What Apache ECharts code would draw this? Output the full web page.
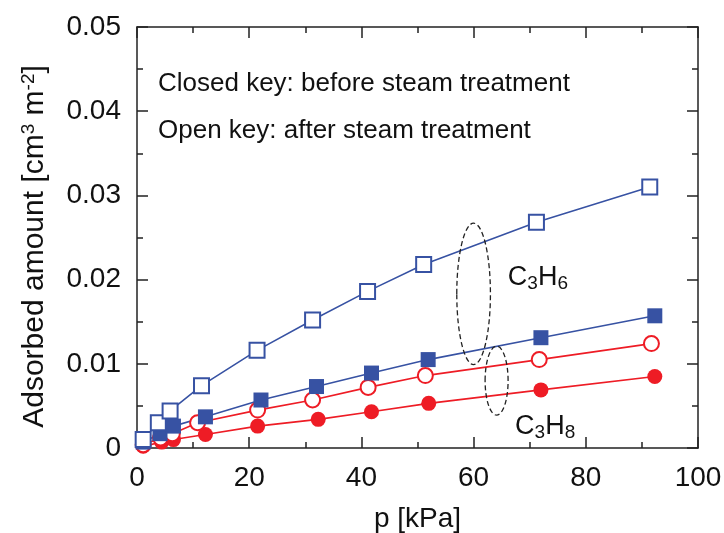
<!DOCTYPE html>
<html>
<head>
<meta charset="utf-8">
<script src="https://cdn.jsdelivr.net/npm/echarts@6/dist/echarts.min.js"></script>
<style>
  html, body { margin: 0; padding: 0; background: #fff; }
  #chart { width: 724px; height: 533px; }
</style>
</head>
<body>
<div id="chart"></div>
<script>
// Pressure (kPa) and adsorbed amount (cm3 m-2) for each isotherm
const c3h6AfterP = [1.1, 3.8, 5.9, 11.5, 21.4, 31.3, 41.1, 51.1, 71.2, 91.4];
const c3h6AfterQ = [0.0010, 0.0030, 0.0044, 0.0074, 0.0116, 0.0152, 0.0186, 0.0218, 0.0268, 0.0310];

const c3h6BeforeP = [1.1, 4.1, 6.5, 12.2, 22.1, 32.0, 41.8, 51.9, 72.0, 92.3];
const c3h6BeforeQ = [0.0007, 0.0017, 0.0026, 0.0037, 0.0057, 0.0073, 0.0089, 0.0105, 0.0131, 0.0157];

const c3h8AfterP = [1.1, 4.2, 6.3, 10.8, 21.5, 31.3, 41.2, 51.4, 71.7, 91.7];
const c3h8AfterQ = [0.0004, 0.0012, 0.0017, 0.0030, 0.0045, 0.0057, 0.0072, 0.0086, 0.0105, 0.0124];

const c3h8BeforeP = [1.1, 4.4, 6.5, 12.2, 21.5, 32.3, 41.8, 52.0, 72.0, 92.3];
const c3h8BeforeQ = [0.0002, 0.0007, 0.0010, 0.0016, 0.0026, 0.0034, 0.0043, 0.0053, 0.0069, 0.0085];

// Axis ranges
const xRange = [0, 100, 20];
const yRange = [0, 0.05, 0.01];

// Dashed group ellipses (centre x, centre y, half-width in kPa, half-height in cm3 m-2)
const groupC3H6 = [60.0, 0.0183, 3.0, 0.0084];
const groupC3H8 = [64.1, 0.0080, 2.05, 0.0041];

const BLUE = '#3752a3';
const RED = '#ee1c25';
const FONT = 'Liberation Sans, Arial, sans-serif';

const pairs = (xs, ys) => xs.map((x, i) => [x, ys[i]]);

function axisCommon(showLabels, margin) {
  return {
    axisLine: { show: true, onZero: false, lineStyle: { color: '#222', width: 1.5 } },
    axisTick: { show: true, inside: true, length: 11, lineStyle: { color: '#222', width: 1.5 } },
    minorTick: { show: true, splitNumber: 2, length: 6, lineStyle: { color: '#222', width: 1.5 } },
    splitLine: { show: false },
    axisLabel: { show: showLabels, color: '#111', fontSize: 28, fontFamily: FONT, margin: margin || 14 }
  };
}

function makeSeries(name, data, symbol, color, filled) {
  return {
    name, type: 'line', data,
    symbol, symbolSize: 15,
    showAllSymbol: true,
    lineStyle: { color, width: 1.6 },
    itemStyle: { color: filled ? color : '#fff', borderColor: color, borderWidth: filled ? 0 : 2 },
    emphasis: { disabled: true },
    z: 3
  };
}

const chart = echarts.init(document.getElementById('chart'), null, { renderer: 'canvas' });

chart.setOption({
  animation: false,
  backgroundColor: '#fff',
  grid: { left: 137, right: 26, top: 27, bottom: 85, containLabel: false, outerBoundsMode: 'none' },
  xAxis: [
    Object.assign(axisCommon(true, 16), {
      type: 'value', min: xRange[0], max: xRange[1], interval: xRange[2], position: 'bottom',
      name: 'p [kPa]', nameLocation: 'middle', nameGap: 57,
      nameTextStyle: { fontSize: 28, color: '#111', fontFamily: FONT }
    }),
    Object.assign(axisCommon(false), {
      type: 'value', min: xRange[0], max: xRange[1], interval: xRange[2], position: 'top'
    })
  ],
  yAxis: [
    Object.assign(axisCommon(true, 16), {
      type: 'value', min: yRange[0], max: yRange[1], interval: yRange[2], position: 'left',
      name: 'Adsorbed amount [cm{sup|3} m{sup|-2}]', nameLocation: 'middle', nameGap: 86,
      nameTextStyle: {
        fontSize: 30, color: '#111', fontFamily: FONT, lineHeight: 32, padding: [0, 18, 0, 0],
        rich: { sup: { fontSize: 19, color: '#111', fontFamily: FONT, verticalAlign: 'top', lineHeight: 20 } }
      }
    }),
    Object.assign(axisCommon(false), {
      type: 'value', min: yRange[0], max: yRange[1], interval: yRange[2], position: 'right'
    })
  ],
  series: [
    makeSeries('C3H8 before', pairs(c3h8BeforeP, c3h8BeforeQ), 'circle', RED, true),
    makeSeries('C3H8 after', pairs(c3h8AfterP, c3h8AfterQ), 'circle', RED, false),
    makeSeries('C3H6 before', pairs(c3h6BeforeP, c3h6BeforeQ), 'rect', BLUE, true),
    makeSeries('C3H6 after', pairs(c3h6AfterP, c3h6AfterQ), 'rect', BLUE, false)
  ]
});

// Annotations placed from data coordinates
function px(pt) { return chart.convertToPixel({ gridIndex: 0 }, pt); }
function ellipseFrom(g) {
  const c = px([g[0], g[1]]);
  const e = px([g[0] + g[2], g[1] + g[3]]);
  return {
    type: 'ellipse', z: 10, silent: true,
    shape: { cx: c[0], cy: c[1], rx: Math.abs(e[0] - c[0]), ry: Math.abs(c[1] - e[1]) },
    style: { fill: 'none', stroke: '#222', lineWidth: 1.3, lineDash: [5, 3] }
  };
}
const formulaRich = {
  m: { fontSize: 27, fontFamily: FONT, fill: '#111', lineHeight: 32 },
  s: { fontSize: 19, fontFamily: FONT, fill: '#111', verticalAlign: 'bottom', lineHeight: 24, padding: [14, 0, 0, 0] }
};
const labC3H6 = px([66.1, 0.0203]);
const labC3H8 = px([67.4, 0.0026]);

chart.setOption({
  graphic: [
    ellipseFrom(groupC3H6),
    ellipseFrom(groupC3H8),
    {
      type: 'text', left: 158, top: 71, silent: true,
      style: { text: 'Closed key: before steam treatment', fontSize: 26, fontFamily: FONT, fill: '#111' }
    },
    {
      type: 'text', left: 158, top: 118, silent: true,
      style: { text: 'Open key: after steam treatment', fontSize: 26, fontFamily: FONT, fill: '#111' }
    },
    {
      type: 'text', x: labC3H6[0], y: labC3H6[1], silent: true,
      style: { text: '{m|C}{s|3}{m|H}{s|6}', rich: formulaRich, verticalAlign: 'middle' }
    },
    {
      type: 'text', x: labC3H8[0], y: labC3H8[1], silent: true,
      style: { text: '{m|C}{s|3}{m|H}{s|8}', rich: formulaRich, verticalAlign: 'middle' }
    }
  ]
});
</script>
</body>
</html>
